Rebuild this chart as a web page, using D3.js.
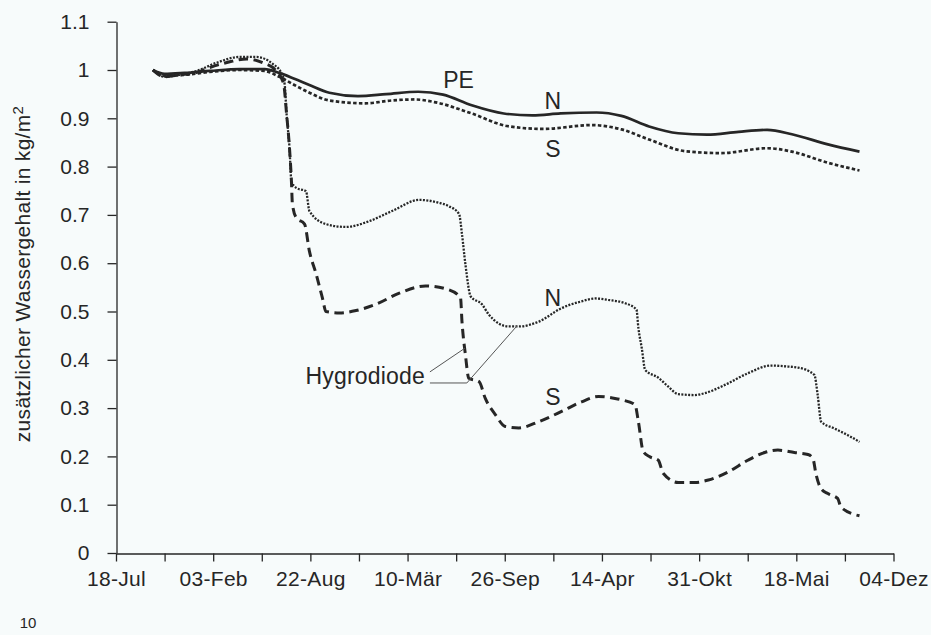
<!DOCTYPE html>
<html><head><meta charset="utf-8">
<script src="https://cdn.jsdelivr.net/npm/d3@7"></script>
<style>
html,body{margin:0;padding:0;background:#f7fbfb;}
svg{display:block;}
text{font-family:"Liberation Sans",Arial,Helvetica,sans-serif;fill:#262626;}
</style></head><body>
<svg id="chart" width="931" height="635"></svg>
<script>
// ---- data (x = days since 18-Jul of the first year) ----
const xTickDays = [0,100,200,300,400,500,600,700,800,900,1000,1100,1200,1300,1400,1500,1600];
const xTickLabels = ["18-Jul","","03-Feb","","22-Aug","","10-Mär","","26-Sep","","14-Apr","","31-Okt","","18-Mai","","04-Dez"];
const yTicks = [0,0.1,0.2,0.3,0.4,0.5,0.6,0.7,0.8,0.9,1.0,1.1];
const yTickLabels = ["0","0.1","0.2","0.3","0.4","0.5","0.6","0.7","0.8","0.9","1","1.1"];

const peNDays   = [76,100,141,193,254,306,336,367,398,439,498,556,622,673,732,798,857,915,989,1040,1097,1157,1216,1281,1340,1391,1465,1530];
const peNValues = [1.0,0.992,0.994,0.998,1.002,1.002,0.994,0.982,0.969,0.953,0.946,0.950,0.955,0.949,0.927,0.910,0.906,0.910,0.912,0.905,0.883,0.869,0.866,0.872,0.876,0.867,0.846,0.831];

const peSDays   = [76,100,141,193,254,306,336,367,398,439,513,568,615,658,732,805,878,980,1040,1097,1171,1245,1340,1391,1465,1530];
const peSValues = [1.0,0.988,0.990,0.996,1.0,0.998,0.986,0.969,0.953,0.937,0.931,0.937,0.939,0.933,0.910,0.884,0.878,0.886,0.877,0.856,0.832,0.828,0.838,0.831,0.808,0.792];

const hygNDays   = [76,100,131,166,207,254,289,322,340,347,351,357,361,371,391,398,432,473,521,568,624,665,685,706,712,719,730,753,767,808,829,870,917,958,986,1013,1048,1071,1075,1082,1089,1116,1136,1157,1191,1212,1253,1300,1348,1383,1403,1437,1444,1451,1478,1506,1530];
const hygNValues = [1.0,0.986,0.99,0.998,1.015,1.027,1.027,1.013,0.994,0.971,0.909,0.839,0.770,0.756,0.749,0.708,0.681,0.675,0.687,0.708,0.731,0.725,0.718,0.702,0.660,0.598,0.531,0.515,0.494,0.469,0.469,0.479,0.507,0.521,0.527,0.524,0.517,0.504,0.466,0.424,0.379,0.363,0.345,0.329,0.327,0.331,0.348,0.372,0.388,0.386,0.384,0.369,0.327,0.272,0.258,0.244,0.230];

const hygSDays   = [76,100,131,166,193,234,269,302,330,345,351,357,361,363,371,388,398,412,425,432,460,494,535,583,637,685,709,712,719,726,747,760,781,801,829,870,917,958,993,1027,1041,1068,1075,1085,1099,1116,1126,1157,1191,1219,1260,1300,1335,1362,1396,1424,1434,1441,1451,1465,1485,1492,1530];
const hygSValues = [1.0,0.986,0.99,0.995,1.005,1.017,1.023,1.015,0.998,0.971,0.909,0.839,0.770,0.723,0.694,0.681,0.625,0.577,0.527,0.500,0.497,0.502,0.515,0.538,0.553,0.545,0.528,0.479,0.411,0.362,0.355,0.320,0.286,0.262,0.259,0.272,0.293,0.313,0.324,0.320,0.317,0.307,0.272,0.210,0.199,0.192,0.165,0.146,0.146,0.151,0.168,0.192,0.208,0.213,0.208,0.204,0.196,0.161,0.133,0.123,0.113,0.095,0.077];

// labels placed in data coordinates
const curveLabels = [
  {text:"PE", day:705, v:0.980},
  {text:"N",  day:899, v:0.936},
  {text:"S",  day:899, v:0.836},
  {text:"N",  day:899, v:0.528},
  {text:"S",  day:899, v:0.323}
];
const hygLabel = {text:"Hygrodiode", day:636, v:0.350};
const leader1 = [[646,0.375],[718,0.424]];
const leader2 = [[646,0.352],[722,0.352],[825,0.470]];

// ---- chart ----
const svg = d3.select("#chart");
const x = d3.scaleLinear().domain([0,1600]).range([116,893.5]);
const y = d3.scaleLinear().domain([0,1.1]).range([553,21.7]);
const ink = "#262626";

// y axis
const gy = svg.append("g").attr("transform","translate(116.5,0)")
  .call(d3.axisLeft(y).tickValues(yTicks).tickFormat((d,i)=>yTickLabels[i])
        .tickSize(9).tickSizeOuter(0).tickPadding(18));
gy.selectAll("path,line").attr("stroke",ink).attr("stroke-width",1.3);
gy.selectAll("text").attr("font-size",21).attr("fill",ink)
  .style("font-family",'"Liberation Sans",Arial,sans-serif');

// x axis
const gx = svg.append("g").attr("transform","translate(0,553.5)")
  .call(d3.axisBottom(x).tickValues(xTickDays).tickFormat((d,i)=>xTickLabels[i])
        .tickSize(8).tickSizeOuter(0).tickPadding(10));
gx.selectAll("path,line").attr("stroke",ink).attr("stroke-width",1.3);
gx.selectAll("text").attr("font-size",21).attr("fill",ink).attr("letter-spacing",0.3)
  .style("font-family",'"Liberation Sans",Arial,sans-serif');

// y axis title
const yt = svg.append("text").attr("transform","translate(30,274) rotate(-90)")
  .attr("text-anchor","middle").attr("font-size",21).attr("letter-spacing",0.3);
yt.append("tspan").text("zusätzlicher Wassergehalt in kg/m");
yt.append("tspan").attr("font-size",15).attr("dy",-7).text("2");

// series
const line = d3.line().x(d=>x(d[0])).y(d=>y(d[1])).curve(d3.curveMonotoneX);
const zip = (a,b)=>a.map((d,i)=>[d,b[i]]);
const series = [
  {pts: zip(hygSDays,hygSValues), w:3.0, dash:"9.5,5.5"},
  {pts: zip(hygNDays,hygNValues), w:2.3, dash:"2,1.4"},
  {pts: zip(peSDays,peSValues),   w:2.7, dash:"3.5,2.3"},
  {pts: zip(peNDays,peNValues),   w:2.7, dash:null}
];
series.forEach(s=>{
  svg.append("path").attr("d",line(s.pts)).attr("fill","none")
    .attr("stroke",ink).attr("stroke-width",s.w)
    .attr("stroke-dasharray",s.dash).attr("stroke-linejoin","round");
});

// curve labels
curveLabels.forEach(l=>{
  svg.append("text").attr("x",x(l.day)).attr("y",y(l.v)).attr("dy","0.36em")
    .attr("text-anchor","middle").attr("font-size",23).text(l.text);
});

// Hygrodiode label and leaders
svg.append("text").attr("x",x(hygLabel.day)).attr("y",y(hygLabel.v))
  .attr("text-anchor","end").attr("font-size",23).attr("letter-spacing",0.2).text(hygLabel.text);
const lead = d3.line().x(d=>x(d[0])).y(d=>y(d[1]));
[leader1,leader2].forEach(p=>{
  svg.append("path").attr("d",lead(p)).attr("fill","none").attr("stroke","#555").attr("stroke-width",1);
});

// page number
svg.append("text").attr("x",28).attr("y",628).attr("text-anchor","middle")
  .attr("font-size",15).attr("fill","#444").text("10");
</script>
</body></html>
